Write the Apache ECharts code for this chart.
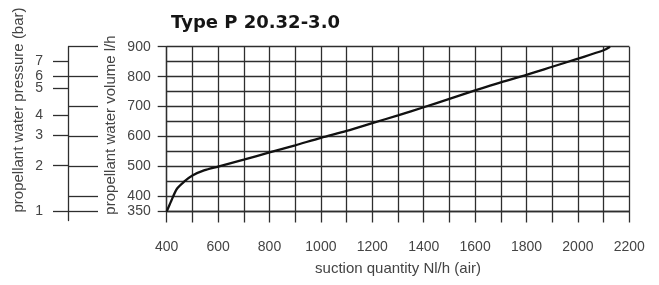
<!DOCTYPE html>
<html>
<head>
<meta charset="utf-8">
<style>
  html, body { margin: 0; padding: 0; background: #fff; }
  #main { width: 659px; height: 285px; }
</style>
<script src="https://cdn.jsdelivr.net/npm/echarts@6/dist/echarts.min.js"></script>
</head>
<body>
<div id="main"></div>
<script>
// suction quantity (Nl/h air) vs propellant water volume (l/h)
var suction = [400, 418, 440, 470, 500, 545, 600, 700, 800, 900, 1000, 1100, 1200, 1300, 1400, 1500, 1600, 1700, 1800, 1900, 2000, 2100, 2125]
var volume = [350, 386, 426, 451, 470, 487, 500, 523, 547, 571, 596, 619, 645, 671, 698, 726, 754, 781, 806, 833, 860, 888, 900]

// volume axis labels / ticks
var volumeTicks = [350, 400, 500, 600, 700, 800, 900]
// pressure scale: label and where it sits on the volume scale
var pressureTicks = [1, 2, 3, 4, 5, 6, 7]
var pressurePos = [350, 503, 604, 670, 761, 803, 852]

var lineCol = '#2e2e2e'
var txtCol = '#444'
var font = 'Liberation Sans'

var chart = echarts.init(document.getElementById('main'))

var option = {
  backgroundColor: '#fff',
  animation: false,
  title: {
    text: 'Type P 20.32-3.0',
    left: 171,
    top: 14,
    padding: 0,
    textStyle: { fontFamily: 'DejaVu Sans', fontWeight: 'bold', fontSize: 18, color: '#151515' }
  },
  grid: [
    { left: 166.7, right: 29.7, top: 46.7, bottom: 285 - 211.5 },
    { left: 68, width: 30, top: 46.7, height: 173.8 }
  ],
  xAxis: [
    {
      type: 'value',
      gridIndex: 0,
      min: 400,
      max: 2200,
      interval: 100,
      name: 'suction quantity Nl/h (air)',
      nameLocation: 'middle',
      nameGap: 50,
      nameTextStyle: { fontFamily: font, fontSize: 15, color: txtCol },
      axisLine: { show: true, lineStyle: { color: lineCol, width: 1.3 } },
      axisTick: { show: true, length: 11, lineStyle: { color: lineCol, width: 1.3 } },
      axisLabel: {
        margin: 29,
        fontFamily: font,
        fontSize: 14,
        color: txtCol,
        formatter: function (v) { return v % 200 === 0 ? String(v) : '' }
      },
      splitLine: { show: true, lineStyle: { color: lineCol, width: 1.3 } }
    },
    { type: 'value', gridIndex: 1, show: false, min: 0, max: 1 }
  ],
  yAxis: [
    {
      // grid lines every 50 l/h
      type: 'value',
      gridIndex: 0,
      position: 'left',
      min: 350,
      max: 900,
      interval: 50,
      axisLine: { show: true, lineStyle: { color: lineCol, width: 1.3 } },
      axisTick: { show: false },
      axisLabel: { show: false },
      splitLine: { show: true, lineStyle: { color: lineCol, width: 1.3 } }
    },
    {
      // labelled volume ticks
      type: 'value',
      gridIndex: 0,
      position: 'left',
      min: 350,
      max: 900,
      axisLine: { show: false },
      axisTick: { show: true, length: 9, customValues: volumeTicks, lineStyle: { color: lineCol, width: 1.3 } },
      axisLabel: { customValues: volumeTicks, margin: 16, fontFamily: font, fontSize: 14, color: txtCol },
      splitLine: { show: false }
    },
    {
      // pressure scale (bar)
      type: 'value',
      gridIndex: 1,
      position: 'left',
      min: 320,
      max: 900,
      axisLine: { show: true, lineStyle: { color: lineCol, width: 1.3 } },
      axisTick: { show: true, length: 15, customValues: pressurePos, lineStyle: { color: lineCol, width: 1.3 } },
      axisLabel: {
        customValues: pressurePos,
        margin: 25,
        fontFamily: font,
        fontSize: 14,
        color: txtCol,
        formatter: function (v) {
          var i = pressurePos.indexOf(v)
          return i >= 0 ? String(pressureTicks[i]) : ''
        }
      },
      splitLine: { show: false }
    },
    {
      // volume ticks carried over to the pressure scale
      type: 'value',
      gridIndex: 1,
      position: 'left',
      min: 320,
      max: 900,
      axisLine: { show: false },
      axisTick: { show: true, inside: true, length: 30, customValues: volumeTicks, lineStyle: { color: lineCol, width: 1.3 } },
      axisLabel: { show: false },
      splitLine: { show: false }
    }
  ],
  graphic: [
    {
      type: 'text',
      x: 19,
      y: 110,
      rotation: Math.PI / 2,
      style: {
        text: 'propellant water pressure (bar)',
        fontFamily: font,
        fontSize: 15,
        fill: txtCol,
        align: 'center',
        verticalAlign: 'middle'
      }
    },
    {
      type: 'text',
      x: 111,
      y: 125,
      rotation: Math.PI / 2,
      style: {
        text: 'propellant water volume l/h',
        fontFamily: font,
        fontSize: 15,
        fill: txtCol,
        align: 'center',
        verticalAlign: 'middle'
      }
    }
  ],
  series: [
    {
      type: 'line',
      xAxisIndex: 0,
      yAxisIndex: 0,
      data: suction.map(function (x, i) { return [x, volume[i]] }),
      smooth: 0.3,
      showSymbol: false,
      lineStyle: { color: '#111', width: 2.3 }
    }
  ]
}

chart.setOption(option)
</script>
</body>
</html>
